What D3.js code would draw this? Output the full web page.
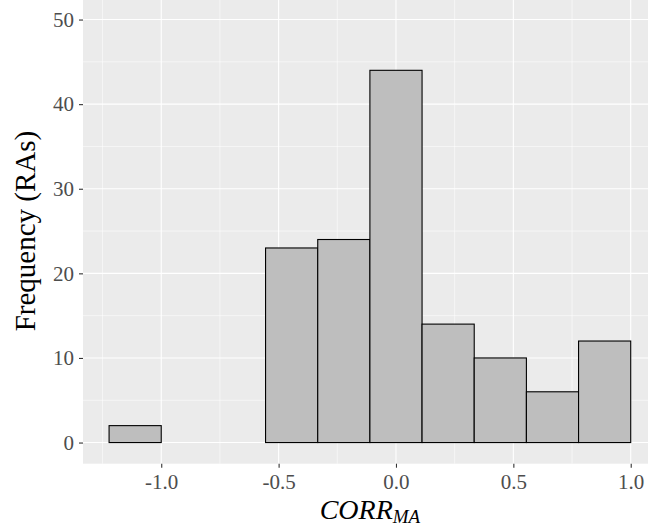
<!DOCTYPE html>
<html>
<head>
<meta charset="utf-8">
<script src="https://cdn.jsdelivr.net/npm/d3@7"></script>
<style>
  body { margin: 0; background: #fff; }
  svg { display: block; }
  text { font-family: "Liberation Serif", "DejaVu Serif", serif; }
</style>
</head>
<body>
<svg id="chart" width="648" height="529"></svg>
<script>
// histogram bins (left edge, right edge) and counts
const binLo = [-1.2222, -1.0, -0.7778, -0.5556, -0.3333, -0.1111, 0.1111, 0.3333, 0.5556, 0.7778];
const binHi = [-1.0, -0.7778, -0.5556, -0.3333, -0.1111, 0.1111, 0.3333, 0.5556, 0.7778, 1.0];
const counts = [2, 0, 0, 23, 24, 44, 14, 10, 6, 12];

const xMajor = [-1.0, -0.5, 0.0, 0.5, 1.0];
const xMinor = [-1.25, -0.75, -0.25, 0.25, 0.75];
const yMajor = [0, 10, 20, 30, 40, 50];
const yMinor = [5, 15, 25, 35, 45];

const PANEL_LEFT = 83;
const PANEL_BOTTOM = 463.7;

const svg = d3.select("#chart");

// ggplot-ish 5% expansion on both axes
const x = d3.scaleLinear().domain([-1.3333, 1.1111]).range([PANEL_LEFT, 656.8]);
const y = d3.scaleLinear().domain([-2.5, 52.5]).range([PANEL_BOTTOM, -1.6]);

svg.append("rect")
  .attr("x", PANEL_LEFT)
  .attr("y", y(52.5))
  .attr("width", x(1.1111) - PANEL_LEFT)
  .attr("height", PANEL_BOTTOM - y(52.5))
  .attr("fill", "#EBEBEB");

const grid = svg.append("g").attr("stroke", "#fff").attr("fill", "none");

grid.selectAll(".xminor")
  .data(xMinor)
  .join("line")
  .attr("x1", (d) => x(d)).attr("x2", (d) => x(d))
  .attr("y1", y(52.5)).attr("y2", PANEL_BOTTOM)
  .attr("stroke-width", 0.55);

grid.selectAll(".yminor")
  .data(yMinor)
  .join("line")
  .attr("y1", (d) => y(d)).attr("y2", (d) => y(d))
  .attr("x1", PANEL_LEFT).attr("x2", x(1.1111))
  .attr("stroke-width", 0.55);

grid.selectAll(".xmajor")
  .data(xMajor)
  .join("line")
  .attr("x1", (d) => x(d)).attr("x2", (d) => x(d))
  .attr("y1", y(52.5)).attr("y2", PANEL_BOTTOM)
  .attr("stroke-width", 1.1);

grid.selectAll(".ymajor")
  .data(yMajor)
  .join("line")
  .attr("y1", (d) => y(d)).attr("y2", (d) => y(d))
  .attr("x1", PANEL_LEFT).attr("x2", x(1.1111))
  .attr("stroke-width", 1.1);

// bars (zero bins still draw as a flat outline)
svg.append("g")
  .selectAll("rect")
  .data(counts)
  .join("rect")
  .attr("x", (d, i) => x(binLo[i]))
  .attr("width", (d, i) => x(binHi[i]) - x(binLo[i]))
  .attr("y", (d) => y(d))
  .attr("height", (d) => y(0) - y(d))
  .attr("fill", "#BEBEBE")
  .attr("stroke", "#000")
  .attr("stroke-width", 1.1);

// axes
const fmt = (d) => d3.format(".1f")(d).replace("\u2212", "-");
const xAxis = svg.append("g")
  .attr("transform", `translate(0,${PANEL_BOTTOM})`)
  .call(d3.axisBottom(x).tickValues(xMajor).tickFormat(fmt).tickSize(4).tickPadding(5));
const yAxis = svg.append("g")
  .attr("transform", `translate(${PANEL_LEFT},0)`)
  .call(d3.axisLeft(y).tickValues(yMajor).tickSize(4).tickPadding(5));

[xAxis, yAxis].forEach((a) => {
  a.select(".domain").remove();
  a.selectAll(".tick line").attr("stroke", "#333").attr("stroke-width", 1.1);
  a.selectAll(".tick text")
    .attr("fill", "#4D4D4D")
    .style("font-size", "21px")
    .style("font-family", '"Liberation Serif", serif');
});
xAxis.selectAll(".tick text").attr("dy", "0.78em");

// axis titles
const xTitle = svg.append("text")
  .attr("x", (PANEL_LEFT + x(1.1111)) / 2)
  .attr("y", 519)
  .attr("text-anchor", "middle")
  .style("font-size", "28px")
  .style("font-style", "italic");
xTitle.append("tspan").text("CORR");
xTitle.append("tspan").attr("dy", 4).style("font-size", "19px").text("MA");

svg.append("text")
  .attr("transform", `translate(35,${(y(52.5) + PANEL_BOTTOM) / 2}) rotate(-90)`)
  .attr("text-anchor", "middle")
  .style("font-size", "29px")
  .text("Frequency (RAs)");
</script>
</body>
</html>
